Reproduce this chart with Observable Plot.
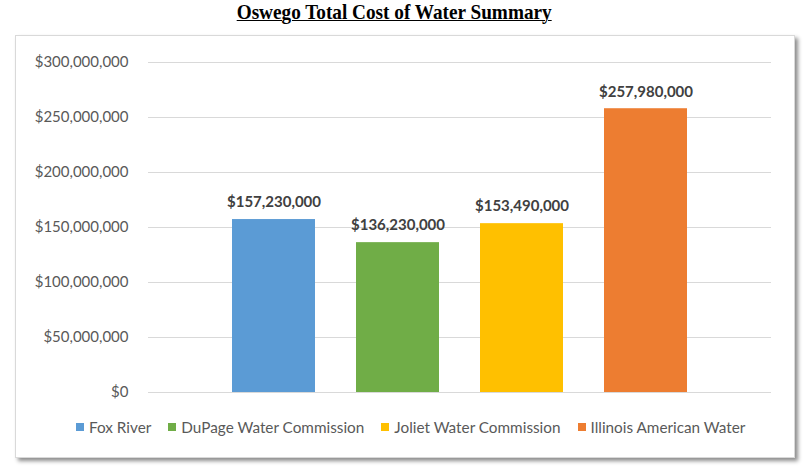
<!DOCTYPE html>
<html><head><meta charset="utf-8">
<script src="https://cdn.jsdelivr.net/npm/d3@7"></script>
<script src="https://cdn.jsdelivr.net/npm/@observablehq/plot@0.6"></script>
<style>
html,body{margin:0;padding:0;background:#fff}
body{width:809px;height:468px;position:relative;overflow:hidden;font-family:Lato,"Open Sans",sans-serif}
#title{position:absolute;top:0px;left:0;width:789px;text-align:center;white-space:nowrap}
#title span{display:inline-block;font-family:"Liberation Serif","DejaVu Serif",serif;font-weight:bold;font-size:22px;line-height:24px;color:#000;text-decoration:underline;text-decoration-thickness:1px;text-underline-offset:1px;transform-origin:center}
#box{position:absolute;left:15px;top:35px;width:778px;height:421px;border:1px solid #d9d9d9;box-shadow:3px 3px 4px rgba(0,0,0,0.45);background:#fff}
#chart{position:absolute;left:0;top:0}
#legend{position:absolute;top:418px;left:76px;display:flex;align-items:center;font-size:15.3px;color:#595959;white-space:nowrap}
#legend .item{display:flex;align-items:center;margin-right:17px}
#legend .sw{width:8px;height:8px;margin-right:5px}
</style>
</head><body>
<div id="title"><span>Oswego Total Cost of Water Summary</span></div>
<div id="box"></div>
<div id="chart"></div>
<div id="legend"></div>
<script>
const categories = ["Fox River", "DuPage Water Commission", "Joliet Water Commission", "Illinois American Water"];
const values = [157230000, 136230000, 153490000, 257980000];
const colors = ["#5B9BD5", "#70AD47", "#FFC000", "#ED7D31"];
const yTicks = [0, 50000000, 100000000, 150000000, 200000000, 250000000, 300000000];

const data = categories.map((c, i) => ({name: c, value: values[i]}));
const fmt = d3.format("$,");

const chart = Plot.plot({
  width: 809,
  height: 468,
  marginLeft: 148,
  marginRight: 38,
  marginTop: 62,
  marginBottom: 76,
  style: {background: "transparent", fontFamily: "Lato, 'Open Sans', sans-serif", overflow: "visible"},
  x: {domain: categories, paddingInner: 0.333, paddingOuter: 0.668, axis: null},
  y: {domain: [0, 300000000], ticks: yTicks, grid: false, axis: null, label: null},
  color: {domain: categories, range: colors},
  marks: [
    Plot.gridY(yTicks, {stroke: "#d9d9d9", strokeOpacity: 1, strokeWidth: 1}),
    Plot.axisY(yTicks, {tickSize: 0, tickPadding: 20, tickFormat: fmt, fontSize: 15, fill: "#595959", fontWeight: "normal", label: null}),
    Plot.barY(data, {x: "name", y: "value", fill: "name"}),
    Plot.text(data, {x: "name", y: "value", text: d => fmt(d.value), dy: -17, fontSize: 15, fontWeight: "bold", fill: "#404040"})
  ]
});
document.getElementById("chart").appendChild(chart);

const legend = document.getElementById("legend");
categories.forEach((c, i) => {
  const it = document.createElement("div");
  it.className = "item";
  const sw = document.createElement("div");
  sw.className = "sw";
  sw.style.background = colors[i];
  const t = document.createElement("span");
  t.textContent = c;
  it.appendChild(sw); it.appendChild(t);
  legend.appendChild(it);
});

const ts = document.querySelector("#title span");
const w = ts.getBoundingClientRect().width;
ts.style.transform = `scaleX(${315 / w})`;
</script>
</body></html>
